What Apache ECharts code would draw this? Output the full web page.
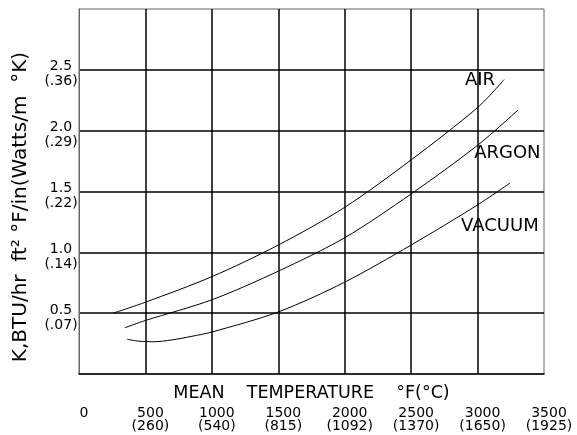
<!DOCTYPE html>
<html>
<head>
<meta charset="utf-8">
<script src="https://cdn.jsdelivr.net/npm/echarts@6/dist/echarts.min.js"></script>
<style>
html,body{margin:0;padding:0;background:#fff;}
#chart{width:577px;height:435px;}
</style>
</head>
<body>
<div id="chart"></div>
<script>
// Data (x: mean temperature °F, y: K BTU/hr ft² °F/in)
var airData = [[257,0.50],[500,0.59],[1000,0.80],[1500,1.06],[2000,1.37],[2500,1.76],[3000,2.19],[3200,2.42]];
var argonData = [[345,0.38],[500,0.44],[1000,0.61],[1500,0.845],[2000,1.12],[2500,1.48],[3000,1.88],[3305,2.17]];
var vacuumData = [[363,0.285],[450,0.27],[560,0.265],[700,0.28],[850,0.31],[1000,0.345],[1500,0.51],[2000,0.755],[2500,1.06],[3000,1.39],[3245,1.57]];

var xTickF = ['0','500','1000','1500','2000','2500','3000','3500'];
var xTickC = ['','(260)','(540)','(815)','(1092)','(1370)','(1650)','(1925)'];
var yTickK = ['','0.5','1.0','1.5','2.0','2.5',''];
var yTickW = ['','(.07)','(.14)','(.22)','(.29)','(.36)',''];

var seriesNames = ['AIR','ARGON','VACUUM'];
var labelAnchors = [[3018,2.41],[3224,1.81],[3168,1.21]];

var font = 'DejaVu Sans';
var chart = echarts.init(document.getElementById('chart'), null, {renderer:'canvas'});

function mkSeries(name, data, anchor){
  return {
    name: name,
    type: 'line',
    data: data,
    smooth: 0.3,
    showSymbol: false,
    symbol: 'none',
    lineStyle: {color:'#000', width:1},
    animation: false,
    markPoint: {
      symbol: 'circle',
      symbolSize: 0,
      animation: false,
      data: [{coord: anchor, name: name}],
      label: {show:true, position:'inside', formatter: name, color:'#000', fontFamily:font, fontSize:18}
    }
  };
}

chart.setOption({
  animation: false,
  backgroundColor: '#fff',
  grid: {left:79, right:33, top:9, bottom:61, containLabel:false, outerBoundsMode:'none',
         show:true, borderColor:'#666', borderWidth:1, backgroundColor:'transparent'},
  xAxis: {
    type: 'value', min: 0, max: 3500, interval: 500,
    name: 'MEAN    TEMPERATURE    °F(°C)',
    nameLocation: 'middle', nameGap: 10, nameMoveOverlap: false,
    nameTextStyle: {fontFamily:font, fontSize:17.5, color:'#000'},
    axisLine: {show:true, lineStyle:{color:'#000', width:1.5}},
    axisTick: {show:false},
    splitLine: {show:true, showMinLine:false, showMaxLine:false, lineStyle:{color:'#000', width:1.5}},
    axisLabel: {
      margin: 33, fontFamily:font, fontSize:14, color:'#000', lineHeight:13,
      padding: [0,0,0,10], hideOverlap:false,
      formatter: function(v){ var i = Math.round(v/500); return xTickF[i] + '\n' + (xTickC[i] || ' '); }
    }
  },
  yAxis: {
    type: 'value', min: 0, max: 3, interval: 0.5,
    name: 'K,BTU/hr  ft² °F/in(Watts/m  °K)',
    nameLocation: 'middle', nameGap: 48, nameMoveOverlap: false,
    nameTextStyle: {fontFamily:font, fontSize:20, color:'#000', padding:[0,31,0,0]},
    axisLine: {show:true, lineStyle:{color:'#666', width:1}},
    axisTick: {show:false},
    splitLine: {show:true, showMinLine:false, showMaxLine:false, lineStyle:{color:'#000', width:1.5}},
    axisLabel: {
      margin: 18, align:'center', fontFamily:font, fontSize:14, color:'#000',
      formatter: function(v){ var i = Math.round(v/0.5); return yTickK[i] ? ('{a|' + yTickK[i] + '}\n{b|' + yTickW[i] + '}') : ''; },
      rich: {
        a: {fontFamily:font, fontSize:14, color:'#000', lineHeight:24, align:'center'},
        b: {fontFamily:font, fontSize:14, color:'#000', lineHeight:6, align:'center'}
      }
    }
  },
  series: [
    mkSeries(seriesNames[0], airData, labelAnchors[0]),
    mkSeries(seriesNames[1], argonData, labelAnchors[1]),
    mkSeries(seriesNames[2], vacuumData, labelAnchors[2])
  ]
});
</script>
</body>
</html>
